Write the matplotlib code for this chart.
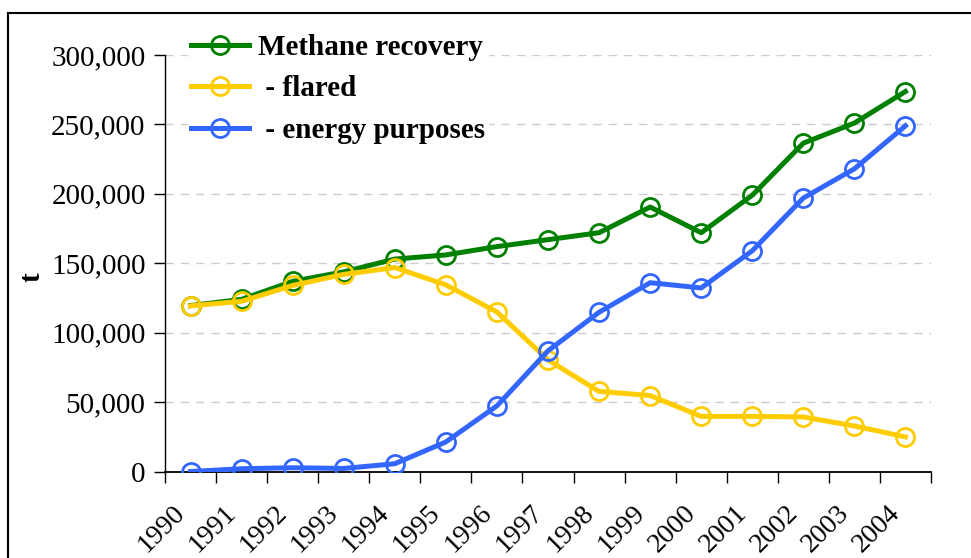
import numpy as np
import matplotlib
matplotlib.use('Agg')
import matplotlib.pyplot as plt
from matplotlib.lines import Line2D
from matplotlib.transforms import ScaledTranslation

years = ['1990', '1991', '1992', '1993', '1994', '1995', '1996', '1997',
         '1998', '1999', '2000', '2001', '2002', '2003', '2004']
recovery = [119500, 124000, 137000, 143800, 153000, 156000, 162000, 167000,
            172000, 190500, 172000, 199000, 236500, 251000, 273700]
flared = [119300, 122600, 134000, 142000, 146900, 134400, 114900, 80400,
          57700, 54700, 39700, 39700, 39300, 32800, 24900]
energy = [0, 2000, 2700, 2200, 5600, 21300, 47300, 86900,
          114700, 136000, 132200, 159000, 197000, 218000, 249000]

plt.rcParams['font.family'] = ['Liberation Serif', 'DejaVu Serif']

fig = plt.figure(figsize=(9.71, 5.58), dpi=100)
ax = fig.add_axes([165/971, 1-471.5/558, (931-165)/971, (471.5-55)/558])

x = np.arange(len(years))
style = dict(lw=3.6, marker='o', ms=13, mfc='none', mew=2)
ax.plot(x, recovery, color='#008000', label='Methane recovery', **style, zorder=3)
ax.plot(x, flared, color='#FFCC00', label=' - flared', **style, zorder=4)
ax.plot(x, energy, color='#3366FF', label=' - energy purposes', **style, zorder=5)

ax.set_xlim(-0.5, len(years) - 0.5)
ax.set_ylim(0, 300000)
ax.set_yticks(np.arange(0, 300001, 50000))
ax.set_yticklabels([f'{v:,}' for v in range(0, 300001, 50000)], fontsize=21)
ax.tick_params(axis='y', length=8, width=1, pad=6)

ax.set_xticks(x)
ax.set_xticklabels(years, fontsize=20, rotation=45, ha='right', va='top',
                   rotation_mode='anchor')
ax.set_xticks(np.arange(-0.5, len(years)), minor=True)
ax.tick_params(axis='x', which='major', length=0, pad=21)
ax.tick_params(axis='x', which='minor', length=8, width=1)
shift = ScaledTranslation(-18/100, 0, fig.dpi_scale_trans)
for lbl in ax.get_xticklabels():
    lbl.set_transform(lbl.get_transform() + shift)

for v in range(50000, 300001, 50000):
    ax.axhline(v, color='#cccccc', lw=1, ls=(0, (6, 5)), zorder=1)

for s in ['top', 'right']:
    ax.spines[s].set_visible(False)
ax.spines['left'].set_linewidth(1)
ax.spines['bottom'].set_linewidth(1.3)

leg = ax.legend(loc='upper left', bbox_to_anchor=(188/971, 1-31/558),
                bbox_transform=fig.transFigure, frameon=True, fancybox=False,
                edgecolor='white', facecolor='white', framealpha=1,
                prop={'weight': 'bold', 'size': 21}, handlelength=2.0,
                handletextpad=0.3, labelspacing=0.5, borderpad=0.1,
                borderaxespad=0)
leg.set_zorder(10)

fig.text(32/971, 1-277/558, 't', rotation=90, fontsize=21, fontweight='bold',
         ha='center', va='center')

# outer frame (only left and top edges are inside the picture)
fig.add_artist(Line2D([8/971, 8/971], [0, 1-13/558], color='black', lw=1.5,
                      transform=fig.transFigure))
fig.add_artist(Line2D([8/971, 1], [1-13/558, 1-13/558], color='black', lw=1.5,
                      transform=fig.transFigure))

fig.savefig('out.png', dpi=100)
